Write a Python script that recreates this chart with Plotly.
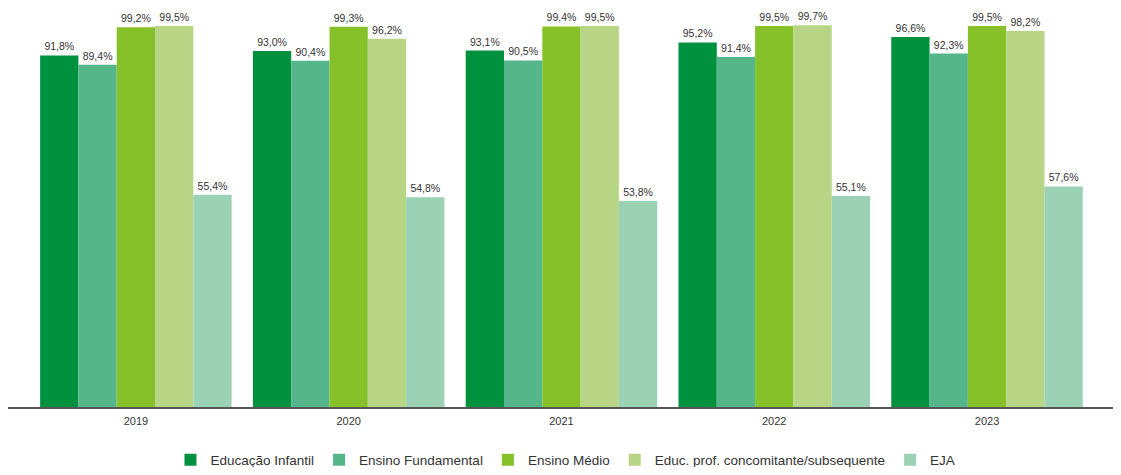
import plotly.graph_objects as go

years = ["2019", "2020", "2021", "2022", "2023"]
series_names = ["Educação Infantil", "Ensino Fundamental", "Ensino Médio",
                "Educ. prof. concomitante/subsequente", "EJA"]
educacao_infantil = [91.8, 93.0, 93.1, 95.2, 96.6]
ensino_fundamental = [89.4, 90.4, 90.5, 91.4, 92.3]
ensino_medio = [99.2, 99.3, 99.4, 99.5, 99.5]
educ_prof = [99.5, 96.2, 99.5, 99.7, 98.2]
eja = [55.4, 54.8, 53.8, 55.1, 57.6]

series_values = [educacao_infantil, ensino_fundamental, ensino_medio, educ_prof, eja]
colors = ["#00913F", "#55B68C", "#86C12A", "#B8D585", "#9BD1B4"]

fig = go.Figure()
for name, vals, c in zip(series_names, series_values, colors):
    fig.add_trace(go.Bar(
        x=years, y=vals, name=name, marker=dict(color=c, line=dict(width=0)),
        texttemplate="%{y:.1f}%", textposition="outside", cliponaxis=False,
        textfont=dict(size=10.5, color="#333333", family="Liberation Sans"),
    ))

fig.update_layout(
    width=1105, height=459,
    margin=dict(l=0, r=0, t=0, b=60, autoexpand=False),
    barmode="group", bargap=0.1, bargroupgap=0,
    separators=",.",
    plot_bgcolor="white", paper_bgcolor="white",
    font=dict(family="Liberation Sans", color="#333333"),
    legend=dict(orientation="h", x=0.5045, xanchor="center", y=-0.1328, yanchor="middle",
                font=dict(size=13.5, color="#333333"), itemwidth=30, tracegroupgap=0),
    showlegend=True,
)
fig.update_xaxes(type="category", range=[-0.601, 4.592], showline=True, linecolor="#555555",
                 linewidth=1.5, ticks="", ticklabelstandoff=3,
                 tickfont=dict(size=11, color="#333333"), showgrid=False)
fig.update_yaxes(range=[0, 104.2], visible=False, showgrid=False, zeroline=False)

fig.write_html("out.html")
